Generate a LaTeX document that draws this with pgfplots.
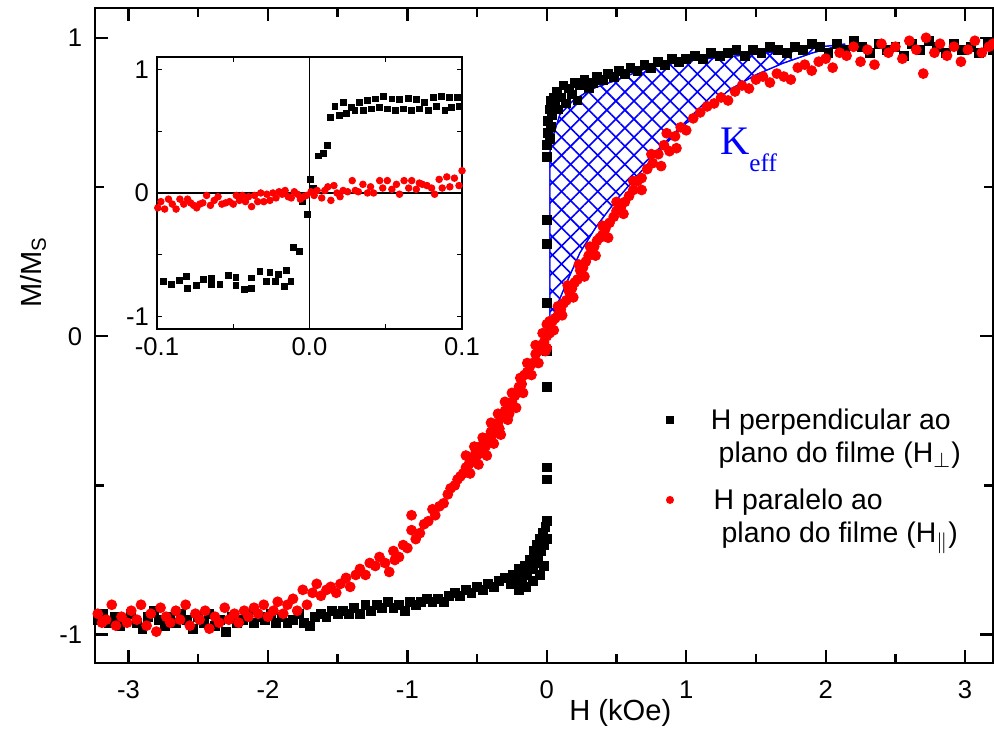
\documentclass[border=0pt]{standalone}
\usepackage{fontspec}
\setmainfont{Liberation Sans}
\newfontfamily\serif{Liberation Serif}
\usepackage{pgfplots}
\pgfplotsset{compat=1.18}
\usetikzlibrary{patterns.meta}

% perpendicular field (black squares)
\pgfplotstableread{
x y
-3.22 -0.95
-3.18 -0.93
-3.14 -0.96
-3.10 -0.94
-3.06 -0.97
-3.02 -0.95
-2.98 -0.93
-2.94 -0.96
-2.90 -0.98
-2.86 -0.94
-2.82 -0.92
-2.78 -0.95
-2.74 -0.97
-2.70 -0.94
-2.66 -0.96
-2.62 -0.93
-2.58 -0.95
-2.54 -0.98
-2.50 -0.94
-2.46 -0.96
-2.42 -0.93
-2.38 -0.97
-2.34 -0.95
-2.30 -0.99
-2.26 -0.94
-2.22 -0.96
-2.18 -0.95
-2.14 -0.93
-2.10 -0.96
-2.06 -0.94
-2.02 -0.95
-1.98 -0.93
-1.94 -0.96
-1.90 -0.94
-1.86 -0.96
-1.82 -0.95
-1.78 -0.93
-1.74 -0.96
-1.70 -0.97
-1.66 -0.94
-1.62 -0.93
-1.58 -0.94
-1.54 -0.92
-1.50 -0.93
-1.46 -0.92
-1.42 -0.93
-1.38 -0.91
-1.34 -0.93
-1.30 -0.90
-1.26 -0.92
-1.22 -0.90
-1.18 -0.91
-1.14 -0.89
-1.10 -0.91
-1.06 -0.90
-1.02 -0.92
-0.98 -0.89
-0.94 -0.90
-0.90 -0.89
-0.86 -0.88
-0.82 -0.89
-0.78 -0.88
-0.74 -0.89
-0.70 -0.87
-0.66 -0.86
-0.62 -0.87
-0.58 -0.85
-0.54 -0.86
-0.50 -0.84
-0.46 -0.85
-0.42 -0.83
-0.38 -0.84
-0.34 -0.82
-0.30 -0.81
-0.26 -0.83
-0.24 -0.80
-0.22 -0.82
-0.20 -0.78
-0.18 -0.81
-0.16 -0.77
-0.14 -0.80
-0.12 -0.75
-0.10 -0.78
-0.09 -0.72
-0.08 -0.76
-0.07 -0.70
-0.06 -0.74
-0.05 -0.68
-0.04 -0.72
-0.03 -0.66
-0.02 -0.70
-0.01 -0.64
0.00 -0.68
0.00 -0.62
-0.02 -0.77
-0.05 -0.80
-0.10 -0.82
-0.15 -0.84
-0.20 -0.85
0.00 -0.48
0.00 -0.44
0.00 -0.17
0.00 -0.05
0.00 0.11
0.00 0.31
0.00 0.39
0.00 0.60
0.00 0.64
0.01 0.68
0.01 0.72
0.02 0.66
0.02 0.76
0.03 0.70
0.03 0.79
0.04 0.74
0.05 0.80
0.06 0.77
0.07 0.82
0.08 0.76
0.10 0.80
0.12 0.84
0.14 0.78
0.16 0.83
0.18 0.81
0.20 0.85
0.22 0.79
0.24 0.84
0.27 0.86
0.30 0.83
0.33 0.85
0.36 0.87
0.40 0.86
0.44 0.88
0.48 0.87
0.52 0.89
0.56 0.88
0.60 0.90
0.65 0.89
0.70 0.91
0.75 0.90
0.80 0.92
0.85 0.91
0.90 0.93
0.95 0.92
1.00 0.93
1.06 0.94
1.12 0.93
1.18 0.95
1.24 0.94
1.30 0.95
1.36 0.96
1.42 0.94
1.48 0.96
1.54 0.95
1.60 0.97
1.66 0.96
1.72 0.95
1.78 0.97
1.84 0.96
1.90 0.98
1.96 0.97
2.02 0.95
2.08 0.98
2.14 0.96
2.20 0.99
2.26 0.97
2.32 0.95
2.38 0.98
2.44 0.96
2.50 0.97
2.56 0.94
2.62 0.98
2.68 0.96
2.74 0.99
2.80 0.97
2.86 0.95
2.92 0.98
2.98 0.96
3.04 0.97
3.10 0.95
3.16 0.98
3.20 0.96
}\perpdata

% parallel field (red circles)
\pgfplotstableread{
x y
-3.22 -0.93
-3.19 -0.96
-3.16 -0.95
-3.12 -0.90
-3.09 -0.97
-3.05 -0.94
-3.01 -0.96
-2.98 -0.92
-2.94 -0.95
-2.91 -0.90
-2.87 -0.97
-2.84 -0.93
-2.80 -0.99
-2.77 -0.91
-2.73 -0.94
-2.70 -0.96
-2.66 -0.92
-2.63 -0.95
-2.59 -0.90
-2.56 -0.97
-2.52 -0.93
-2.49 -0.95
-2.45 -0.92
-2.42 -0.98
-2.38 -0.94
-2.35 -0.96
-2.31 -0.91
-2.28 -0.95
-2.24 -0.93
-2.21 -0.96
-2.17 -0.92
-2.14 -0.94
-2.10 -0.91
-2.07 -0.93
-2.03 -0.90
-2.00 -0.94
-1.96 -0.92
-1.93 -0.89
-1.89 -0.93
-1.86 -0.90
-1.82 -0.88
-1.79 -0.92
-1.75 -0.85
-1.72 -0.90
-1.68 -0.86
-1.65 -0.83
-1.62 -0.87
-1.58 -0.85
-1.55 -0.84
-1.51 -0.86
-1.48 -0.83
-1.44 -0.81
-1.41 -0.84
-1.37 -0.80
-1.34 -0.78
-1.30 -0.80
-1.27 -0.76
-1.23 -0.77
-1.20 -0.74
-1.16 -0.76
-1.13 -0.79
-1.10 -0.72
-1.09 -0.75
-1.06 -0.74
-1.03 -0.70
-1.00 -0.71
-0.97 -0.65
-0.97 -0.60
-0.94 -0.68
-0.91 -0.66
-0.88 -0.63
-0.85 -0.62
-0.82 -0.58
-0.80 -0.60
-0.77 -0.57
-0.74 -0.56
-0.71 -0.53
-0.69 -0.51
-0.66 -0.50
-0.64 -0.48
-0.62 -0.47
-0.60 -0.46
-0.58 -0.44
-0.56 -0.43
-0.55 -0.41
-0.53 -0.42
-0.51 -0.39
-0.50 -0.40
-0.48 -0.37
-0.47 -0.39
-0.45 -0.35
-0.44 -0.37
-0.42 -0.34
-0.40 -0.32
-0.39 -0.33
-0.37 -0.30
-0.35 -0.29
-0.34 -0.31
-0.32 -0.27
-0.30 -0.25
-0.28 -0.24
-0.27 -0.26
-0.25 -0.22
-0.23 -0.20
-0.21 -0.19
-0.20 -0.17
-0.18 -0.16
-0.16 -0.13
-0.14 -0.12
-0.12 -0.10
-0.10 -0.09
-0.08 -0.06
-0.06 -0.05
-0.04 -0.03
-0.02 -0.02
0.00 0.00
0.00 -0.04
0.00 0.04
-0.58 -0.40
-0.55 -0.46
-0.52 -0.37
-0.49 -0.43
-0.46 -0.34
-0.43 -0.40
-0.40 -0.29
-0.38 -0.36
-0.35 -0.26
-0.33 -0.33
-0.30 -0.22
-0.28 -0.28
-0.25 -0.19
-0.22 -0.24
-0.19 -0.14
-0.17 -0.19
-0.14 -0.09
-0.11 -0.13
-0.08 -0.03
-0.06 -0.09
-0.03 0.01
-0.01 -0.05
0.02 0.01
0.04 0.05
0.06 0.06
0.08 0.07
0.10 0.09
0.12 0.11
0.14 0.12
0.16 0.15
0.18 0.16
0.20 0.18
0.22 0.19
0.24 0.22
0.26 0.23
0.28 0.25
0.30 0.27
0.32 0.28
0.34 0.30
0.36 0.32
0.38 0.33
0.40 0.34
0.42 0.36
0.45 0.38
0.48 0.40
0.50 0.42
0.53 0.43
0.56 0.45
0.59 0.47
0.62 0.49
0.65 0.52
0.68 0.53
0.72 0.56
0.76 0.58
0.80 0.61
0.84 0.64
0.88 0.62
0.92 0.67
0.96 0.70
0.02 0.05
0.05 0.02
0.08 0.10
0.11 0.07
0.15 0.17
0.19 0.13
0.23 0.24
0.27 0.20
0.31 0.30
0.35 0.27
0.40 0.37
0.44 0.33
0.50 0.45
0.55 0.41
0.62 0.52
0.68 0.49
0.75 0.61
0.82 0.57
0.86 0.68
0.93 0.63
1.00 0.69
1.05 0.73
1.10 0.75
1.15 0.77
1.20 0.78
1.25 0.80
1.30 0.79
1.35 0.82
1.40 0.84
1.45 0.83
1.50 0.86
1.55 0.87
1.60 0.85
1.65 0.88
1.70 0.87
1.75 0.86
1.80 0.90
1.85 0.91
1.90 0.89
1.95 0.92
2.00 0.93
2.05 0.90
2.10 0.95
2.15 0.94
2.20 0.97
2.25 0.92
2.30 0.96
2.35 0.91
2.40 0.98
2.45 0.95
2.50 0.97
2.55 0.93
2.60 0.99
2.65 0.96
2.70 0.88
2.72 1.00
2.78 0.95
2.82 0.98
2.87 0.94
2.92 0.97
2.97 0.92
3.02 0.96
3.07 0.99
3.12 0.95
3.17 0.97
3.20 0.98
}\paradata

% inset, black
\pgfplotstableread{
x y
-0.1002 -0.78
-0.0958 -0.715
-0.0904 -0.742
-0.0853 -0.707
-0.0805 -0.675
-0.0800 -0.769
-0.0744 -0.750
-0.0696 -0.702
-0.0641 -0.688
-0.0641 -0.742
-0.0587 -0.742
-0.0532 -0.669
-0.0482 -0.680
-0.0482 -0.750
-0.0429 -0.782
-0.0379 -0.688
-0.0379 -0.769
-0.0325 -0.634
-0.0281 -0.715
-0.0259 -0.643
-0.0226 -0.715
-0.0204 -0.661
-0.0167 -0.755
-0.0150 -0.626
-0.0122 -0.715
-0.0107 -0.438
-0.0068 -0.473
-0.0044 -0.07
-0.0015 -0.174
0.0007 0.11
0.0028 0.035
0.0057 0.30
0.0090 0.32
0.0116 0.385
0.0138 0.61
0.0167 0.70
0.0195 0.63
0.0221 0.73
0.0243 0.64
0.0276 0.69
0.0298 0.67
0.0326 0.73
0.0352 0.67
0.0380 0.75
0.0407 0.68
0.0433 0.76
0.0457 0.69
0.0487 0.78
0.0511 0.68
0.0540 0.76
0.0564 0.67
0.0592 0.755
0.0614 0.68
0.0647 0.763
0.0669 0.67
0.0702 0.757
0.0723 0.68
0.0756 0.73
0.0778 0.67
0.0811 0.77
0.0833 0.70
0.0866 0.78
0.0888 0.67
0.0920 0.77
0.0931 0.69
0.0968 0.77
0.0985 0.70
}\insetperp

% inset, red
\pgfplotstableread{
x y
-0.0995 -0.12
-0.0975 -0.07
-0.0950 -0.13
-0.0925 -0.05
-0.0900 -0.09
-0.0875 -0.13
-0.0850 -0.05
-0.0825 -0.09
-0.0800 -0.05
-0.0780 -0.08
-0.0760 -0.10
-0.0740 -0.12
-0.0720 -0.09
-0.0700 -0.08
-0.0675 -0.02
-0.0650 -0.10
-0.0625 -0.06
-0.0600 -0.03
-0.0575 -0.09
-0.0550 -0.08
-0.0525 -0.07
-0.0500 -0.09
-0.0480 -0.02
-0.0460 -0.06
-0.0440 -0.02
-0.0420 -0.07
-0.0400 -0.03
-0.0380 -0.11
-0.0360 -0.02
-0.0340 -0.07
-0.0320 0.00
-0.0300 -0.07
-0.0280 -0.01
-0.0260 -0.06
-0.0240 0.00
-0.0220 -0.04
-0.0200 0.01
-0.0180 -0.01
-0.0160 0.02
-0.0140 -0.03
-0.0120 -0.04
-0.0100 0.01
-0.0080 -0.01
-0.0060 -0.05
-0.0040 -0.03
-0.0020 -0.02
0.0010 0.01
0.0030 -0.02
0.0050 0.02
0.0080 -0.04
0.0100 0.02
0.0120 0.05
0.0140 -0.06
0.0160 0.06
0.0180 0.00
0.0200 -0.03
0.0220 0.02
0.0250 0.01
0.0280 0.10
0.0300 0.02
0.0320 0.01
0.0350 0.07
0.0380 0.00
0.0400 0.05
0.0420 0.00
0.0460 0.10
0.0480 0.04
0.0510 0.10
0.0540 0.03
0.0570 0.07
0.0590 -0.01
0.0620 0.10
0.0650 0.04
0.0670 0.10
0.0700 0.03
0.0720 0.08
0.0740 0.07
0.0770 0.06
0.0800 0.04
0.0820 -0.01
0.0850 0.11
0.0870 0.04
0.0900 0.13
0.0920 0.05
0.0950 0.12
0.0980 0.06
0.1000 0.18
}\insetpara

\begin{document}
\begin{tikzpicture}
\path[use as bounding box] (-1.434cm,-1.087cm) rectangle (13.567cm,10.005cm);
\begin{axis}[
  at={(0,0)}, anchor=south west, scale only axis,
  width=13.552cm, height=9.885cm,
  xmin=-3.24, xmax=3.2, ymin=-1.095, ymax=1.1,
  axis line style={line width=1pt},
  xtick={-3,-2,-1,0,1,2,3},
  xticklabels={-3,-2,-1,0,1,2,3},
  ytick={-1,0,1}, yticklabels={-1,0,1},
  minor xtick={-2.5,-1.5,-0.5,0.5,1.5,2.5},
  minor ytick={-0.5,0.5},
  tick align=inside,
  major tick length=5.5pt, minor tick length=4pt,
  every tick/.style={black, line width=1pt},
  tick label style={font=\fontsize{11}{13}\selectfont},
  xticklabel shift=4pt, yticklabel shift=2pt,
  xlabel={H (kOe)},
  ylabel={M/M\textsubscript{S}},
  label style={font=\fontsize{12.5}{15}\selectfont},
  x label style={at={(axis description cs:0.585,0)}, anchor=center, yshift=-21.5pt},
  y label style={at={(axis description cs:0,0.597)}, anchor=center, yshift=26.6pt},
  legend style={draw=none, fill=none, at={(axis cs:0.78,-0.21)}, anchor=north west,
    font=\fontsize{12.2}{14.2}\selectfont, row sep=6pt,
    cells={align=left}},
  legend image post style={mark size=1.5pt},
  legend image code/.code={%
    \path[draw=none, fill=none] (0pt,-9.2pt) rectangle (18.5pt,9.2pt);
    \draw[mark repeat=2,mark phase=2] plot coordinates {(0pt,7.6pt)(3pt,7.6pt)(6pt,7.6pt)};},
]
\addplot[only marks, mark=square*, mark size=1.9pt, black] table {\perpdata};
\addlegendentry{H perpendicular ao\\\hspace*{0.28em}plano do filme (H$_{\perp}$)}
\addplot[only marks, mark=*, mark size=2.1pt, red, fill=red] table {\paradata};
\addlegendentry{H paralelo ao\\\hspace*{0.28em}plano do filme (H$_{\|}$)}
\addplot[forget plot, blue, line width=0.5pt,
  pattern={Lines[angle=45,distance=5.5pt,line width=0.7pt]}, pattern color=blue,
  postaction={pattern={Lines[angle=-45,distance=5.5pt,line width=0.7pt]}, pattern color=blue}]
  coordinates {(0.022,0.022) (0.022,0.615) (0.045,0.67) (0.093,0.742) (0.19,0.79)
  (0.32,0.828) (0.475,0.854) (0.715,0.898) (1.0,0.924) (1.31,0.937) (1.67,0.954)
  (2.14,0.979) (1.91,0.95) (1.695,0.915) (1.50,0.876) (1.31,0.826) (1.17,0.77)
  (1.0,0.714) (0.835,0.636) (0.667,0.547) (0.50,0.457) (0.356,0.368) (0.237,0.279)
  (0.141,0.178) (0.07,0.10)} -- cycle;
\node[anchor=base west, text=blue, font=\serif\fontsize{17.4}{20}\selectfont, inner sep=0pt]
  at (axis cs:1.24,0.608) {K\raisebox{-7.3pt}{\fontsize{10.8}{12}\selectfont eff}};
\end{axis}
\begin{axis}[
  at={(0.936cm,5.040cm)}, anchor=south west, scale only axis,
  width=4.603cm, height=4.105cm,
  xmin=-0.1, xmax=0.1, ymin=-1.1, ymax=1.1,
  axis background/.style={fill=white},
  axis line style={line width=0.6pt},
  xtick={-0.1,0,0.1}, xticklabels={-0.1,0.0,0.1},
  minor xtick={-0.05,0.05},
  ytick={-1,0,1}, yticklabels={-1,0,1},
  minor ytick={-0.5,0.5},
  tick align=inside,
  major tick length=2pt, minor tick length=2pt,
  every tick/.style={black, line width=0.5pt},
  tick label style={font=\fontsize{11}{13}\selectfont},
]
\addplot[forget plot, black, line width=0.5pt] coordinates {(0,-1.1) (0,1.1)};
\addplot[forget plot, black, line width=0.5pt] coordinates {(-0.1,0) (0.1,0)};
\addplot[only marks, mark=square*, mark size=1.25pt, black] table {\insetperp};
\addplot[only marks, mark=*, mark size=1.4pt, red, fill=red] table {\insetpara};
\end{axis}
\end{tikzpicture}
\end{document}
